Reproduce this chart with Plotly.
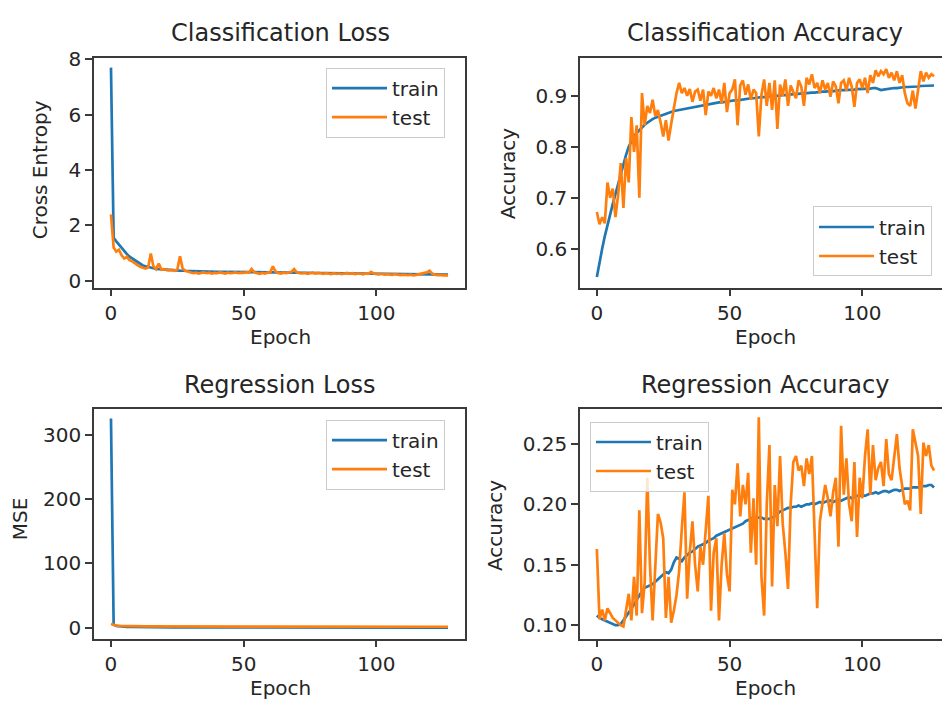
import plotly.graph_objects as go

# ---- training history (one value per epoch, epochs 0..127) ----
epochs = list(range(128))

cls_loss_train = [
    7.70, 1.55, 1.42, 1.30, 1.18, 1.06, 0.96, 0.87, 0.80, 0.73,
    0.66, 0.60, 0.55, 0.52, 0.49, 0.47, 0.45, 0.43, 0.42, 0.41,
    0.40, 0.39, 0.385, 0.38, 0.375, 0.37, 0.365, 0.36, 0.355, 0.35,
    0.345, 0.342, 0.340, 0.338, 0.336, 0.334, 0.332, 0.330, 0.328, 0.326,
    0.324, 0.322, 0.320, 0.318, 0.316, 0.314, 0.312, 0.311, 0.310, 0.309,
    0.308, 0.307, 0.306, 0.305, 0.304, 0.303, 0.302, 0.301, 0.300, 0.299,
    0.298, 0.297, 0.296, 0.295, 0.294, 0.293, 0.292, 0.291, 0.290, 0.289,
    0.288, 0.287, 0.286, 0.285, 0.284, 0.283, 0.282, 0.281, 0.280, 0.279,
    0.278, 0.277, 0.276, 0.275, 0.274, 0.273, 0.272, 0.271, 0.270, 0.269,
    0.268, 0.267, 0.266, 0.265, 0.264, 0.263, 0.262, 0.261, 0.260, 0.259,
    0.258, 0.257, 0.256, 0.255, 0.254, 0.253, 0.252, 0.251, 0.250, 0.249,
    0.248, 0.247, 0.246, 0.245, 0.244, 0.243, 0.242, 0.241, 0.240, 0.238,
    0.236, 0.234, 0.232, 0.230, 0.228, 0.226, 0.224, 0.222,
]
cls_loss_test = [
    2.40, 1.20, 1.05, 1.12, 0.92, 0.80, 0.86, 0.74, 0.70, 0.62,
    0.56, 0.50, 0.46, 0.44, 0.48, 0.98, 0.52, 0.42, 0.62, 0.40,
    0.42, 0.38, 0.37, 0.39, 0.36, 0.40, 0.88, 0.44, 0.36, 0.33,
    0.30, 0.27, 0.29, 0.26, 0.28, 0.30, 0.27, 0.29, 0.26, 0.28,
    0.27, 0.30, 0.28, 0.26, 0.29, 0.27, 0.28, 0.30, 0.27, 0.29,
    0.28, 0.31, 0.29, 0.42, 0.30, 0.27, 0.25, 0.28, 0.26, 0.29,
    0.30, 0.52, 0.33, 0.28, 0.26, 0.29, 0.27, 0.30, 0.32, 0.42,
    0.30, 0.27, 0.26, 0.28, 0.25, 0.27, 0.29, 0.26, 0.28, 0.27,
    0.25, 0.27, 0.26, 0.24, 0.27, 0.25, 0.26, 0.24, 0.26, 0.28,
    0.25, 0.27, 0.24, 0.26, 0.25, 0.23, 0.26, 0.25, 0.32, 0.26,
    0.24, 0.23, 0.25, 0.22, 0.24, 0.23, 0.21, 0.24, 0.22, 0.20,
    0.22, 0.21, 0.20, 0.22, 0.19, 0.21, 0.23, 0.25, 0.28, 0.30,
    0.36, 0.26, 0.22, 0.20, 0.21, 0.19, 0.20, 0.18,
]

cls_acc_train = [
    0.545, 0.575, 0.600, 0.625, 0.648, 0.668, 0.688, 0.707, 0.727, 0.747,
    0.766, 0.784, 0.800, 0.811, 0.820, 0.827, 0.833, 0.838, 0.843, 0.847,
    0.851, 0.854, 0.857, 0.859, 0.861, 0.863, 0.865, 0.867, 0.868, 0.870,
    0.871, 0.872, 0.874, 0.875, 0.876, 0.877, 0.878, 0.879, 0.880, 0.881,
    0.882, 0.883, 0.884, 0.884, 0.885, 0.886, 0.887, 0.887, 0.888, 0.889,
    0.889, 0.890, 0.891, 0.891, 0.892, 0.893, 0.893, 0.894, 0.895, 0.895,
    0.896, 0.896, 0.897, 0.897, 0.898, 0.898, 0.899, 0.899, 0.900, 0.900,
    0.901, 0.901, 0.902, 0.902, 0.903, 0.903, 0.904, 0.904, 0.905, 0.905,
    0.906, 0.906, 0.906, 0.907, 0.907, 0.908, 0.908, 0.909, 0.909, 0.909,
    0.910, 0.910, 0.911, 0.911, 0.911, 0.912, 0.912, 0.912, 0.913, 0.913,
    0.913, 0.914, 0.914, 0.914, 0.915, 0.915, 0.913, 0.911, 0.912, 0.913,
    0.914, 0.914, 0.915, 0.915, 0.916, 0.916, 0.917, 0.917, 0.917, 0.918,
    0.918, 0.918, 0.919, 0.919, 0.919, 0.920, 0.920, 0.920,
]
cls_acc_test = [
    0.672, 0.648, 0.662, 0.650, 0.730, 0.700, 0.718, 0.662, 0.705, 0.768,
    0.680, 0.778, 0.730, 0.858, 0.790, 0.842, 0.700, 0.905, 0.842, 0.880,
    0.866, 0.892, 0.860, 0.872, 0.848, 0.820, 0.852, 0.812, 0.845, 0.878,
    0.905, 0.925, 0.905, 0.915, 0.900, 0.913, 0.888, 0.908, 0.912, 0.890,
    0.912, 0.862, 0.908, 0.900, 0.915, 0.895, 0.912, 0.885, 0.925, 0.868,
    0.905, 0.912, 0.932, 0.842, 0.920, 0.930, 0.902, 0.922, 0.892, 0.912,
    0.905, 0.820, 0.902, 0.932, 0.880, 0.925, 0.872, 0.930, 0.835, 0.922,
    0.900, 0.932, 0.880, 0.920, 0.908, 0.895, 0.930, 0.918, 0.880, 0.935,
    0.922, 0.942, 0.915, 0.925, 0.905, 0.930, 0.912, 0.925, 0.898, 0.928,
    0.918, 0.885, 0.925, 0.930, 0.910, 0.935, 0.918, 0.878, 0.925, 0.932,
    0.915, 0.935, 0.905, 0.940, 0.925, 0.950, 0.938, 0.948, 0.942, 0.952,
    0.935, 0.945, 0.930, 0.948, 0.925, 0.940, 0.905, 0.885, 0.880, 0.910,
    0.875, 0.915, 0.948, 0.928, 0.945, 0.935, 0.942, 0.938,
]

reg_loss_train = [
    325.0, 5.0, 3.2, 2.6, 2.2, 1.9, 1.7, 1.6, 1.5, 1.4,
    1.35, 1.3, 1.25, 1.2, 1.15, 1.1, 1.08, 1.05, 1.02, 1.0,
    0.98, 0.96, 0.94, 0.92, 0.90, 0.89, 0.88, 0.87, 0.86, 0.85,
    0.84, 0.83, 0.82, 0.81, 0.80, 0.80, 0.79, 0.79, 0.78, 0.78,
    0.77, 0.77, 0.76, 0.76, 0.75, 0.75, 0.74, 0.74, 0.73, 0.73,
    0.72, 0.72, 0.71, 0.71, 0.70, 0.70, 0.70, 0.69, 0.69, 0.69,
    0.68, 0.68, 0.68, 0.67, 0.67, 0.67, 0.66, 0.66, 0.66, 0.65,
    0.65, 0.65, 0.64, 0.64, 0.64, 0.63, 0.63, 0.63, 0.62, 0.62,
    0.62, 0.62, 0.61, 0.61, 0.61, 0.61, 0.60, 0.60, 0.60, 0.60,
    0.59, 0.59, 0.59, 0.59, 0.58, 0.58, 0.58, 0.58, 0.57, 0.57,
    0.57, 0.57, 0.56, 0.56, 0.56, 0.56, 0.55, 0.55, 0.55, 0.55,
    0.54, 0.54, 0.54, 0.54, 0.53, 0.53, 0.53, 0.53, 0.52, 0.52,
    0.52, 0.52, 0.51, 0.51, 0.51, 0.51, 0.50, 0.50,
]
reg_loss_test = [
    6.0, 4.5, 3.6, 3.2, 3.0, 2.8, 2.7, 2.6, 2.5, 2.45,
    2.4, 2.38, 2.35, 2.33, 2.3, 2.28, 2.26, 2.25, 2.24, 2.23,
    2.22, 2.21, 2.2, 2.19, 2.18, 2.17, 2.16, 2.15, 2.15, 2.14,
    2.13, 2.12, 2.12, 2.11, 2.10, 2.10, 2.09, 2.09, 2.08, 2.08,
    2.07, 2.07, 2.06, 2.06, 2.05, 2.05, 2.04, 2.04, 2.03, 2.03,
    2.02, 2.02, 2.01, 2.01, 2.00, 2.00, 2.00, 1.99, 1.99, 1.99,
    1.98, 1.98, 1.98, 1.97, 1.97, 1.97, 1.96, 1.96, 1.96, 1.95,
    1.95, 1.95, 1.94, 1.94, 1.94, 1.93, 1.93, 1.93, 1.92, 1.92,
    1.92, 1.92, 1.91, 1.91, 1.91, 1.91, 1.90, 1.90, 1.90, 1.90,
    1.89, 1.89, 1.89, 1.89, 1.88, 1.88, 1.88, 1.88, 1.87, 1.87,
    1.87, 1.87, 1.86, 1.86, 1.86, 1.86, 1.85, 1.85, 1.85, 1.85,
    1.84, 1.84, 1.84, 1.84, 1.83, 1.83, 1.83, 1.83, 1.82, 1.82,
    1.82, 1.82, 1.81, 1.81, 1.81, 1.81, 1.80, 1.80,
]

reg_acc_train = [
    0.108, 0.106, 0.105, 0.104, 0.103, 0.102, 0.101, 0.100, 0.100, 0.101,
    0.104, 0.107, 0.110, 0.113, 0.117, 0.121, 0.125, 0.128, 0.131, 0.132,
    0.133, 0.134, 0.136, 0.138, 0.140, 0.142, 0.144, 0.143, 0.146, 0.152,
    0.156, 0.155, 0.153, 0.156, 0.158, 0.160, 0.161, 0.163, 0.165, 0.166,
    0.167, 0.168, 0.170, 0.171, 0.172, 0.174, 0.175, 0.176, 0.177, 0.178,
    0.179, 0.180, 0.181, 0.182, 0.183, 0.184, 0.186, 0.187, 0.188, 0.189,
    0.189, 0.189, 0.189, 0.188, 0.188, 0.188, 0.189, 0.190, 0.192, 0.194,
    0.195, 0.196, 0.197, 0.197, 0.198, 0.198, 0.199, 0.198, 0.199, 0.200,
    0.200, 0.201, 0.200, 0.201, 0.202, 0.201, 0.202, 0.203, 0.203, 0.202,
    0.203, 0.204, 0.203, 0.204, 0.205, 0.206, 0.205, 0.206, 0.207, 0.207,
    0.208, 0.207, 0.208, 0.209, 0.209, 0.210, 0.209, 0.210, 0.211, 0.211,
    0.210, 0.211, 0.212, 0.212, 0.211, 0.212, 0.213, 0.213, 0.213, 0.214,
    0.214, 0.214, 0.215, 0.215, 0.215, 0.216, 0.216, 0.214,
]
reg_acc_test = [
    0.163, 0.105, 0.113, 0.104, 0.114, 0.110, 0.106, 0.104, 0.102, 0.100,
    0.099, 0.112, 0.126, 0.104, 0.140, 0.108, 0.195, 0.110, 0.135, 0.222,
    0.150, 0.104, 0.150, 0.192, 0.185, 0.172, 0.106, 0.140, 0.102, 0.112,
    0.125, 0.145, 0.180, 0.210, 0.122, 0.160, 0.186, 0.150, 0.128, 0.165,
    0.150, 0.180, 0.207, 0.112, 0.160, 0.172, 0.104, 0.150, 0.176, 0.142,
    0.128, 0.212, 0.200, 0.234, 0.190, 0.216, 0.200, 0.226, 0.160, 0.205,
    0.150, 0.272, 0.140, 0.108, 0.200, 0.249, 0.132, 0.216, 0.182, 0.240,
    0.184, 0.160, 0.130, 0.200, 0.235, 0.240, 0.228, 0.232, 0.215, 0.238,
    0.225, 0.240, 0.170, 0.114, 0.186, 0.200, 0.216, 0.205, 0.190, 0.210,
    0.222, 0.165, 0.265, 0.208, 0.238, 0.200, 0.186, 0.235, 0.173, 0.222,
    0.205, 0.240, 0.262, 0.208, 0.249, 0.220, 0.230, 0.235, 0.215, 0.254,
    0.225, 0.220, 0.240, 0.258, 0.230, 0.215, 0.200, 0.203, 0.195, 0.262,
    0.250, 0.240, 0.192, 0.251, 0.240, 0.249, 0.232, 0.228,
]

x_ticks = [0, 50, 100]
cls_loss_ticks = [0, 2, 4, 6, 8]
cls_acc_ticks = [0.6, 0.7, 0.8, 0.9]
reg_loss_ticks = [0, 100, 200, 300]
reg_acc_ticks = [0.10, 0.15, 0.20, 0.25]

TRAIN_C = "#1f77b4"
TEST_C = "#ff7f0e"
INK = "#262626"
FONT = "DejaVu Sans"

W, H = 942, 709

fig = go.Figure()

panels = [
    # (x axis id, y axis id, legend id, train, test)
    ("x", "y", "legend", cls_loss_train, cls_loss_test),
    ("x2", "y2", "legend2", cls_acc_train, cls_acc_test),
    ("x3", "y3", "legend3", reg_loss_train, reg_loss_test),
    ("x4", "y4", "legend4", reg_acc_train, reg_acc_test),
]
for xa, ya, lg, tr, te in panels:
    fig.add_trace(go.Scatter(x=epochs, y=tr, mode="lines", name="train",
                             line=dict(color=TRAIN_C, width=2.7),
                             xaxis=xa, yaxis=ya, legend=lg))
    fig.add_trace(go.Scatter(x=epochs, y=te, mode="lines", name="test",
                             line=dict(color=TEST_C, width=2.7),
                             xaxis=xa, yaxis=ya, legend=lg))

left_dom = [94 / W, 465 / W]
right_dom = [580 / W, 1.0]
top_dom = [1 - 283 / H, 1 - 48 / H]
bot_dom = [1 - 642 / H, 1 - 407 / H]

tickfont = dict(family=FONT, size=20, color=INK)


def xax(domain, anchor, rng, mirror):
    return dict(domain=domain, anchor=anchor, range=rng, tickvals=x_ticks,
                showgrid=False, zeroline=False, showline=True, linecolor="#3a3a3a",
                linewidth=1.5, mirror=mirror, ticks="outside", ticklen=7,
                tickwidth=1.5, tickcolor="#3a3a3a", tickfont=tickfont)


def yax(domain, anchor, rng, vals, fmt, mirror):
    return dict(domain=domain, anchor=anchor, range=rng, tickvals=vals,
                tickformat=fmt, showgrid=False, zeroline=False, showline=True,
                linecolor="#3a3a3a", linewidth=1.5, mirror=mirror,
                ticks="outside", ticklen=7, tickwidth=1.5, tickcolor="#3a3a3a",
                tickfont=tickfont)


legend_style = dict(font=dict(family=FONT, size=20, color=INK),
                    bgcolor="rgba(255,255,255,0.8)", bordercolor="#cccccc",
                    borderwidth=1, xanchor="left", yanchor="top",
                    tracegroupgap=0, itemwidth=55)

fig.update_layout(
    width=W, height=H,
    margin=dict(l=0, r=0, t=0, b=0),
    paper_bgcolor="white", plot_bgcolor="white",
    font=dict(family=FONT, color=INK),
    showlegend=True,
    xaxis=xax(left_dom, "y", [-6.4, 133.4], True),
    yaxis=yax(top_dom, "x", [-0.25, 8.05], cls_loss_ticks, "d", True),
    xaxis2=xax(right_dom, "y2", [-6.35, 130.0], True),
    yaxis2=yax(top_dom, "x2", [0.524, 0.974], cls_acc_ticks, ".1f", False),
    xaxis3=xax(left_dom, "y3", [-6.4, 133.4], True),
    yaxis3=yax(bot_dom, "x3", [-16.5, 340], reg_loss_ticks, "d", True),
    xaxis4=xax(right_dom, "y4", [-6.35, 130.0], True),
    yaxis4=yax(bot_dom, "x4", [0.089, 0.279], reg_acc_ticks, ".2f", False),
    legend=dict(x=326 / W, y=1 - 58 / H, **legend_style),
    legend2=dict(x=813 / W, y=1 - 200 / H, **legend_style),
    legend3=dict(x=326 / W, y=1 - 418 / H, **legend_style),
    legend4=dict(x=590 / W, y=1 - 420 / H, **legend_style),
)


def text(x, y, s, size, angle=0):
    fig.add_annotation(x=x / W, y=1 - y / H, xref="paper", yref="paper",
                       text=s, showarrow=False, textangle=angle,
                       xanchor="center", yanchor="middle",
                       font=dict(family=FONT, size=size, color=INK))


# subplot titles
text(280, 22, "Classification Loss", 24)
text(765, 22, "Classification Accuracy", 24)
text(280, 383, "Regression Loss", 24)
text(765, 383, "Regression Accuracy", 24)
# axis labels
text(280, 334, "Epoch", 20)
text(765, 334, "Epoch", 20)
text(280, 693, "Epoch", 20)
text(765, 693, "Epoch", 20)
text(40, 163, "Cross Entropy", 20, -90)
text(508, 167, "Accuracy", 20, -90)
text(20, 520, "MSE", 20, -90)
text(495, 527, "Accuracy", 20, -90)

fig.write_html("out.html")
